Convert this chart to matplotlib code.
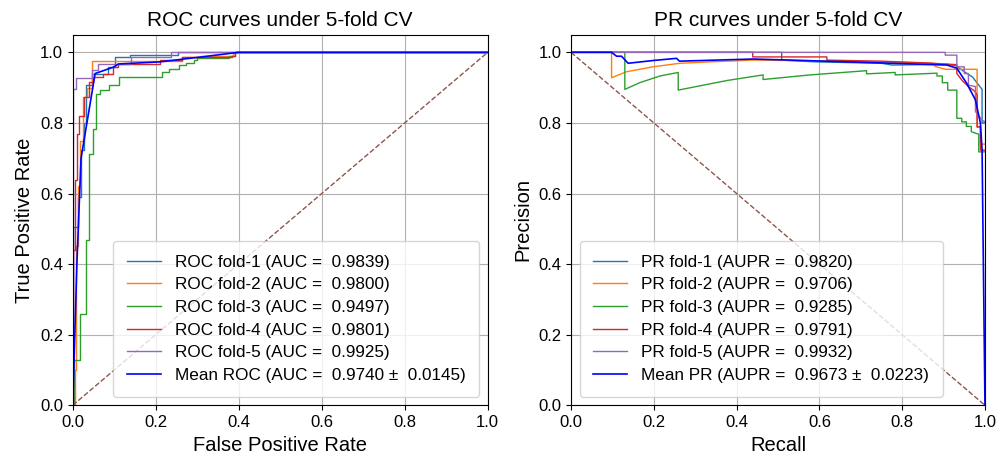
import numpy as np
import matplotlib
matplotlib.use('Agg')
import matplotlib.pyplot as plt

plt.rcParams['font.family'] = ['Liberation Sans', 'DejaVu Sans']

# ROC step corners per fold (fpr, tpr)
roc_fpr_1 = [0, 0, 0.012, 0.019, 0.026, 0.032, 0.046, 0.086, 0.102, 0.138, 0.254, 1.0]
roc_tpr_1 = [0, 0.506, 0.59, 0.722, 0.80, 0.907, 0.94, 0.958, 0.986, 0.993, 1.0, 1.0]
roc_fpr_2 = [0, 0.005, 0.008, 0.013, 0.018, 0.024, 0.034, 0.046, 0.264, 0.308, 0.387, 1.0]
roc_tpr_2 = [0, 0.10, 0.45, 0.62, 0.75, 0.874, 0.90, 0.976, 0.987, 0.99, 1.0, 1.0]
roc_fpr_3 = [0, 0.004, 0.018, 0.032, 0.040, 0.049, 0.055, 0.066, 0.087, 0.111, 0.216,
             0.232, 0.256, 0.272, 0.292, 0.30, 0.376, 0.392, 1.0]
roc_tpr_3 = [0, 0.127, 0.26, 0.467, 0.713, 0.784, 0.883, 0.892, 0.907, 0.930, 0.944,
             0.953, 0.963, 0.970, 0.977, 0.985, 0.99, 1.0, 1.0]
roc_fpr_4 = [0, 0, 0.0055, 0.011, 0.016, 0.027, 0.038, 0.050, 0.074, 0.098, 0.11,
             0.211, 0.263, 0.383, 0.39, 1.0]
roc_tpr_4 = [0, 0.44, 0.638, 0.77, 0.82, 0.873, 0.916, 0.930, 0.94, 0.958, 0.967,
             0.979, 0.986, 0.99, 1.0, 1.0]
roc_fpr_5 = [0, 0, 0.008, 0.046, 0.062, 0.14, 0.238, 1.0]
roc_tpr_5 = [0, 0.897, 0.928, 0.951, 0.967, 0.987, 1.0, 1.0]
mean_fpr = [0, 0.01, 0.02, 0.054, 0.098, 0.11, 0.21, 0.31, 0.40, 1.0]
mean_tpr = [0, 0.40, 0.70, 0.94, 0.958, 0.967, 0.973, 0.987, 1.0, 1.0]
aucs = [0.9839, 0.9800, 0.9497, 0.9801, 0.9925]
mean_auc, std_auc = 0.9740, 0.0145

# PR curves per fold (recall, precision)
pr_rec_1 = [0, 0.509, 0.509, 0.59, 0.75, 0.775, 0.91, 0.93, 0.95, 0.97, 0.993, 0.993, 1.0]
pr_pre_1 = [1.0, 1.0, 0.978, 0.973, 0.969, 0.964, 0.966, 0.962, 0.945, 0.93, 0.895, 0.80, 0.80]
pr_rec_2 = [0, 0.098, 0.098, 0.134, 0.198, 0.263, 0.336, 0.44, 0.6, 0.75, 0.875, 0.88,
            0.904, 0.981, 0.981, 0.989, 0.989, 1.0]
pr_pre_2 = [1.0, 1.0, 0.928, 0.945, 0.959, 0.969, 0.973, 0.978, 0.976, 0.973, 0.969, 0.96,
            0.952, 0.952, 0.788, 0.788, 0.74, 0.74]
pr_rec_3 = [0, 0.13, 0.13, 0.166, 0.215, 0.259, 0.259, 0.311, 0.376, 0.464, 0.464, 0.577,
            0.714, 0.714, 0.783, 0.783, 0.884, 0.884, 0.897, 0.897, 0.91, 0.91, 0.932,
            0.932, 0.944, 0.944, 0.955, 0.955, 0.967, 0.967, 0.985, 0.985, 1.0]
pr_pre_3 = [1.0, 1.0, 0.895, 0.914, 0.933, 0.943, 0.893, 0.905, 0.920, 0.936, 0.923, 0.936,
            0.948, 0.939, 0.943, 0.936, 0.941, 0.933, 0.933, 0.914, 0.914, 0.893, 0.893,
            0.813, 0.813, 0.803, 0.803, 0.79, 0.79, 0.775, 0.768, 0.718, 0.718]
pr_rec_4 = [0, 0.439, 0.439, 0.618, 0.618, 0.75, 0.86, 0.932, 0.932, 0.945, 0.96, 0.975,
            0.981, 0.981, 0.989, 0.989, 1.0]
pr_pre_4 = [1.0, 1.0, 0.987, 0.987, 0.978, 0.975, 0.97, 0.965, 0.94, 0.92, 0.903, 0.89,
            0.88, 0.789, 0.789, 0.723, 0.723]
pr_rec_5 = [0, 0.904, 0.904, 0.932, 0.932, 0.95, 0.95, 0.96, 0.96, 0.977, 0.977, 0.993, 1.0]
pr_pre_5 = [1.0, 1.0, 0.992, 0.992, 0.959, 0.959, 0.94, 0.94, 0.907, 0.903, 0.832, 0.808, 0.803]
mean_rec = [0, 0.098, 0.11, 0.122, 0.138, 0.2, 0.255, 0.262, 0.44, 0.53, 0.75, 0.855,
            0.908, 0.932, 0.956, 0.977, 0.989, 0.993, 1.0]
mean_pre = [1.0, 1.0, 0.989, 0.989, 0.969, 0.977, 0.983, 0.975, 0.981, 0.978, 0.97, 0.966,
            0.964, 0.955, 0.912, 0.865, 0.799, 0.723, 0.0]
auprs = [0.9820, 0.9706, 0.9285, 0.9791, 0.9932]
mean_aupr, std_aupr = 0.9673, 0.0223

roc_fprs = [roc_fpr_1, roc_fpr_2, roc_fpr_3, roc_fpr_4, roc_fpr_5]
roc_tprs = [roc_tpr_1, roc_tpr_2, roc_tpr_3, roc_tpr_4, roc_tpr_5]
pr_recs = [pr_rec_1, pr_rec_2, pr_rec_3, pr_rec_4, pr_rec_5]
pr_pres = [pr_pre_1, pr_pre_2, pr_pre_3, pr_pre_4, pr_pre_5]
colors = ['tab:blue', 'tab:orange', 'tab:green', 'tab:red', 'tab:purple']

fig = plt.figure(figsize=(10.06, 4.54), dpi=100)
ax1 = fig.add_axes([0.0723, 0.1073, 0.4125, 0.8163])
ax2 = fig.add_axes([0.5676, 0.1073, 0.4115, 0.8163])

# ROC
for i in range(5):
    ax1.plot(roc_fprs[i], roc_tprs[i], drawstyle='steps-post', color=colors[i], lw=1,
             label='ROC fold-%d (AUC =  %.4f)' % (i + 1, aucs[i]))
ax1.plot(mean_fpr, mean_tpr, color='b', lw=1.2,
         label='Mean ROC (AUC =  %.4f \u00b1  %.4f)' % (mean_auc, std_auc))
ax1.plot([0, 1], [0, 1], '--', color='tab:brown', lw=1)
ax1.set_xlim(0, 1)
ax1.set_ylim(0, 1.05)
ax1.set_xlabel('False Positive Rate', fontsize=14.5)
ax1.set_ylabel('True Positive Rate', fontsize=14.5)
ax1.set_title('ROC curves under 5-fold CV', fontsize=15)
ax1.legend(loc='lower right', fontsize=12.3, labelspacing=0.45, borderpad=0.8)

# PR
for i in range(5):
    ax2.plot(pr_recs[i], pr_pres[i], color=colors[i], lw=1,
             label='PR fold-%d (AUPR =  %.4f)' % (i + 1, auprs[i]))
ax2.plot(mean_rec, mean_pre, color='b', lw=1.2,
         label='Mean PR (AUPR =  %.4f \u00b1  %.4f)' % (mean_aupr, std_aupr))
ax2.plot([0, 1], [1, 0], '--', color='tab:brown', lw=1)
ax2.set_xlim(0, 1)
ax2.set_ylim(0, 1.05)
ax2.set_xlabel('Recall', fontsize=14.5)
ax2.set_ylabel('Precision', fontsize=14.5)
ax2.set_title('PR curves under 5-fold CV', fontsize=15)
ax2.legend(loc='lower left', fontsize=12.3, labelspacing=0.45, borderpad=0.8)

for ax in (ax1, ax2):
    ax.set_xticks(np.arange(0, 1.01, 0.2))
    ax.set_yticks(np.arange(0, 1.01, 0.2))
    ax.tick_params(labelsize=12)
    ax.grid(True)

fig.savefig('out.png', dpi=100)
